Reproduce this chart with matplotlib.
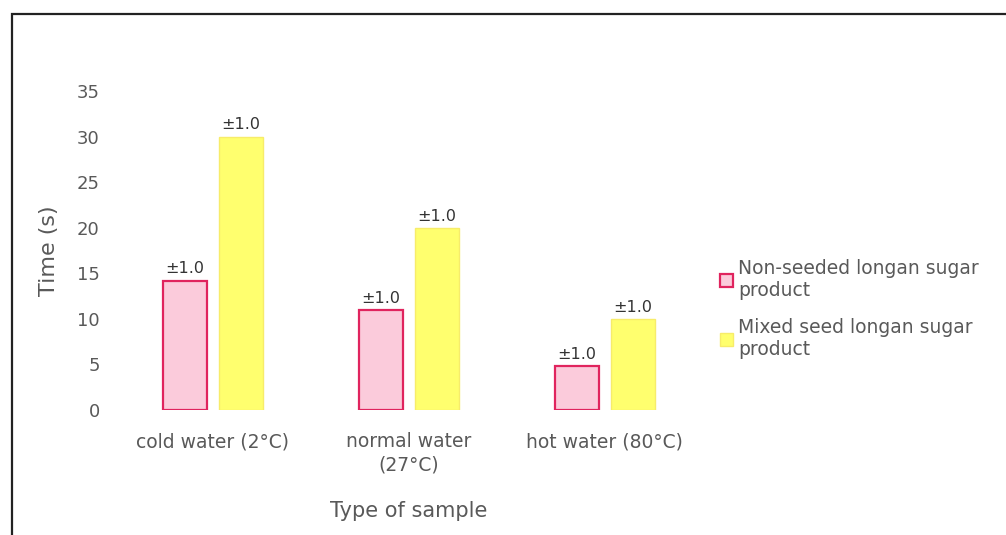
import numpy as np
import matplotlib
matplotlib.use("Agg")
import matplotlib.pyplot as plt
from matplotlib.patches import Rectangle

# data
categories = ["cold water (2°C)", "normal water\n(27°C)", "hot water (80°C)"]
non_seeded = [14.2, 11.0, 4.8]
mixed_seed = [30.0, 20.0, 10.0]
err_label = "±1.0"
series_names = ["Non-seeded longan sugar\nproduct", "Mixed seed longan sugar\nproduct"]

TXT = "#595959"
plt.rcParams["font.family"] = ["DejaVu Sans"]

fig = plt.figure(figsize=(10.06, 5.35), dpi=100)
ax = fig.add_axes([0.1143, 0.2336, 0.584, 0.5964])

x = np.arange(len(categories))
w = 0.224
off = 0.143
b1 = ax.bar(x - off, non_seeded, w, color="#FBCBDB", edgecolor="#E0245E", lw=1.6,
            label=series_names[0])
b2 = ax.bar(x + off, mixed_seed, w, color="#FFFF6E", edgecolor="#F7EC6A", lw=1.0,
            label=series_names[1])
for b in (b1, b2):
    ax.bar_label(b, labels=[err_label] * len(b), padding=3, fontsize=11.5, color="#333333")

ax.set_xlim(-0.5, 2.5)
ax.set_ylim(0, 35)
ax.set_yticks(range(0, 36, 5))
ax.set_xticks(x)
ax.set_xticklabels(categories, fontsize=13.5, color=TXT, linespacing=1.3)
ax.tick_params(axis="y", labelsize=13, colors=TXT, length=0, pad=11)
ax.tick_params(axis="x", length=0, pad=16)
for s in ax.spines.values():
    s.set_visible(False)
ax.set_ylabel("Time (s)", fontsize=16, color=TXT, labelpad=13)
ax.set_xlabel("Type of sample", fontsize=15, color=TXT, labelpad=19)

fig.legend(loc="upper left", bbox_to_anchor=(0.699, 0.548), frameon=False,
           fontsize=13.5, labelcolor=TXT, handlelength=0.7, handleheight=0.7,
           handletextpad=0.25, labelspacing=1.0)

# outer frame of the original figure box
fig.patches.append(Rectangle((12 / 1006, -0.1), 1.2, (535 - 14) / 535 + 0.1,
                             transform=fig.transFigure, fill=False,
                             edgecolor="#222222", lw=1.6))

fig.savefig("out.png", dpi=100)
